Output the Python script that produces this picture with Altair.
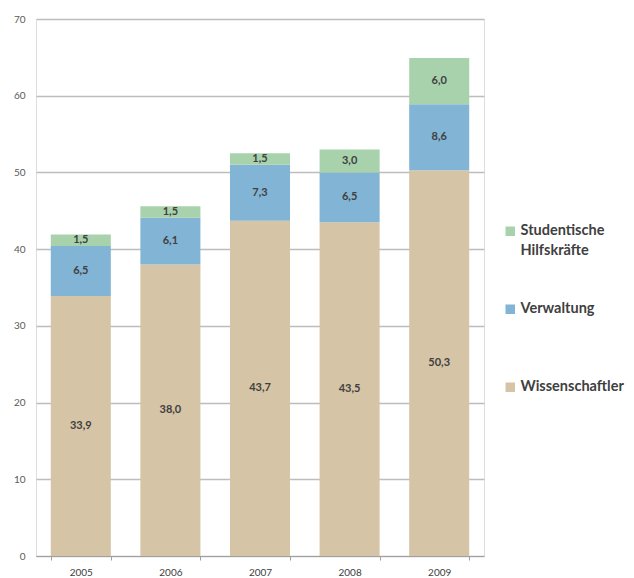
import altair as alt
import pandas as pd

years = ["2005", "2006", "2007", "2008", "2009"]
series = ["Wissenschaftler", "Verwaltung", "Studentische Hilfskräfte"]
wissenschaftler = [33.9, 38.0, 43.7, 43.5, 50.3]
verwaltung = [6.5, 6.1, 7.3, 6.5, 8.6]
studentische = [1.5, 1.5, 1.5, 3.0, 6.0]
colors = ["#D5C4A5", "#82B4D5", "#A8D2AC"]

rows = []
for i, y in enumerate(years):
    for k, (s, vals) in enumerate(zip(series, [wissenschaftler, verwaltung, studentische])):
        rows.append({"Jahr": y, "Gruppe": s, "Wert": vals[i], "ord": k,
                     "label": f"{vals[i]:.1f}".replace(".", ",")})
df = pd.DataFrame(rows)

FONT = "Lato"

base = alt.Chart(df).encode(
    x=alt.X("Jahr:N", title=None, sort=years,
            scale=alt.Scale(paddingInner=0.33, paddingOuter=0.165),
            axis=alt.Axis(labelAngle=0, tickBand="extent", tickSize=4, tickColor="#A0A0A0",
                          domainColor="#A0A0A0", domainWidth=1, labelFontSize=10,
                          labelColor="#404040", labelPadding=7, labelFont=FONT)),
)

bars = base.mark_bar(opacity=1).encode(
    y=alt.Y("Wert:Q", title=None, stack="zero",
            scale=alt.Scale(domain=[0, 70], nice=False),
            axis=alt.Axis(values=list(range(0, 71, 10)), grid=True, gridColor="#BDBDBD",
                          gridWidth=1.5, domain=False, ticks=False, labelFontSize=10,
                          labelColor="#595959", labelPadding=11, labelFont=FONT)),
    color=alt.Color("Gruppe:N", sort=series[::-1],
                    scale=alt.Scale(domain=series[::-1], range=colors[::-1]),
                    legend=alt.Legend(title=None, orient="none", legendX=467, legendY=205,
                                      symbolType="square", symbolSize=90, symbolStrokeWidth=0,
                                      labelFontSize=14.5, labelFontWeight="bold",
                                      labelColor="#404040", labelFont=FONT,
                                      labelBaseline="middle",
                                      labelExpr="split(replace(datum.label, 'Studentische ', 'Studentische|') + (indexof(datum.label, 'Studentische') >= 0 ? '' : '| '), '|')",
                                      rowPadding=43, labelOffset=3, labelLimit=200)),
    order=alt.Order("ord:Q"),
)

text = base.mark_text(font=FONT, fontSize=11, fontWeight="bold", color="#404040").encode(
    y=alt.Y("Wert:Q", stack="zero", bandPosition=0.5),
    text="label:N",
    order=alt.Order("ord:Q"),
)

chart = alt.layer(bars, text).properties(
    width=448, height=537,
    padding={"left": 36, "top": 19, "right": 150, "bottom": 22},
    autosize=alt.AutoSizeParams(type="none"),
).configure_view(fill="#EEEFF1", stroke=None).configure(
    background="white",
    style={"guide-label": {"lineHeight": 20}},
)

chart.save("out.html", embed_options={"renderer": "svg", "actions": False})
